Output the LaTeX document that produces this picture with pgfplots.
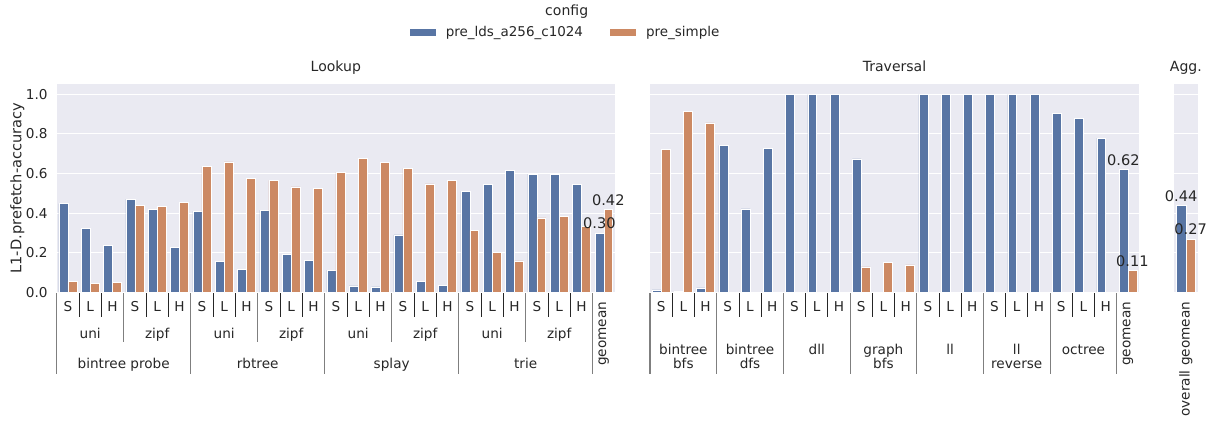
\documentclass[border=0pt]{standalone}
\usepackage{pgfplots}
\pgfplotsset{compat=1.18}
\usepackage{fontspec}
\setmainfont{DejaVu Sans}
\definecolor{cblue}{HTML}{5875A4}
\definecolor{corange}{HTML}{CC8963}
\definecolor{bgc}{HTML}{EAEAF2}
\definecolor{txt}{HTML}{262626}
\definecolor{sepg}{HTML}{7F7F7F}
\newcommand\fs[1]{\fontsize{#1}{#1}\selectfont}
\tikzset{
  shortsep/.style={txt, line width=0.55pt},
  longsep/.style={sepg, line width=0.8pt},
}
\pgfplotsset{
  /pgf/number format/assume math mode=true,
  panel/.style={
    scale only axis, height=149.98pt, ymin=0, ymax=1.052,
    axis background/.style={fill=bgc},
    axis line style={draw=none},
    ytick={0,0.2,0.4,0.6,0.8,1.0}, ymajorgrids,
    grid style={white, line width=0.8pt},
    xtick=\empty, major tick length=0pt,
    ybar, bar width=0.4,
    clip=false,
    tick label style={font=\fs{9.8}},
    title style={font=\fs{10.1}, at={(0.5,1)}, anchor=base, yshift=2.9pt},
  },
  sb/.style={fill=cblue, draw=white, line width=0.4pt, bar shift=-0.2},
  so/.style={fill=corange, draw=white, line width=0.4pt, bar shift=0.2},
  lab/.style={nodes near coords={\pgfmathprintnumber[fixed,fixed zerofill,precision=2,assume math mode=true]{\pgfplotspointmeta}},
    point meta=y,
    nodes near coords style={font=\fs{10.5}, anchor=south, inner sep=0pt, yshift=2.6pt}},
}
\begin{document}
\begin{tikzpicture}[every node/.append style={text=txt}]
% ---------------- Lookup ----------------
\begin{axis}[panel, at={(40.82pt,-210.46pt)}, anchor=south west, width=401.98pt,
  xmin=-0.5, xmax=24.5, title={Lookup},
  yticklabel style={xshift=-3pt, /pgf/number format/fixed, /pgf/number format/fixed zerofill, /pgf/number format/precision=1},
  ylabel={L1-D.prefetch-accuracy},
  every axis y label/.style={at={(axis description cs:-0.0705,0.5)}, rotate=90, anchor=center, font=\fs{10.5}},
  legend style={at={(rel axis cs:0.9122,1.248)}, anchor=center, draw=none, fill=none,
    legend columns=2, font=\fs{9.7}, legend cell align=left,
    /tikz/every even column/.append style={column sep=17.5pt}},
]
\addlegendimage{legend image code/.code={\fill[cblue, draw=none] (0pt,-2.6pt) rectangle (18.7pt,2.6pt); \path[draw=none, fill=none] (0pt,0pt) rectangle (23.9pt,0.1pt);}}
\addlegendentry{pre\_lds\_a256\_c1024}
\addlegendimage{legend image code/.code={\fill[corange, draw=none] (0pt,-2.6pt) rectangle (18.7pt,2.6pt); \path[draw=none, fill=none] (0pt,0pt) rectangle (23.9pt,0.1pt);}}
\addlegendentry{pre\_simple}
\addplot[sb, forget plot] coordinates {
 (0,0.448) (1,0.322) (2,0.238) (3,0.470) (4,0.419) (5,0.227)
 (6,0.409) (7,0.156) (8,0.117) (9,0.414) (10,0.193) (11,0.161)
 (12,0.112) (13,0.032) (14,0.027) (15,0.290) (16,0.055) (17,0.035)
 (18,0.510) (19,0.544) (20,0.616) (21,0.597) (22,0.596) (23,0.545)};
\addplot[so, forget plot] coordinates {
 (0,0.055) (1,0.044) (2,0.050) (3,0.440) (4,0.433) (5,0.456)
 (6,0.634) (7,0.659) (8,0.574) (9,0.565) (10,0.532) (11,0.523)
 (12,0.606) (13,0.678) (14,0.656) (15,0.626) (16,0.547) (17,0.565)
 (18,0.312) (19,0.200) (20,0.159) (21,0.376) (22,0.383) (23,0.334)};
\addplot[sb, forget plot, lab] coordinates {(24,0.30)};
\addplot[so, forget plot, lab] coordinates {(24,0.42)};
\end{axis}
% ---------------- Traversal ----------------
\begin{axis}[panel, at={(468pt,-210.46pt)}, anchor=south west, width=352.08pt,
  xmin=-0.5, xmax=21.5, title={Traversal}, yticklabels={}]
\addplot[sb, forget plot] coordinates {
 (0,0.012) (1,0.005) (2,0.022) (3,0.742) (4,0.421) (5,0.727)
 (6,1.0) (7,1.0) (8,1.0) (9,0.674)
 (12,1.0) (13,1.0) (14,1.0) (15,1.0) (16,1.0) (17,1.0)
 (18,0.903) (19,0.878) (20,0.779)};
\addplot[so, forget plot] coordinates {
 (0,0.720) (1,0.914) (2,0.856) (9,0.128) (10,0.151) (11,0.138)};
\addplot[sb, forget plot, lab] coordinates {(21,0.62)};
\addplot[so, forget plot, lab] coordinates {(21,0.11)};
\end{axis}
% ---------------- Agg ----------------
\begin{axis}[panel, at={(845.28pt,-210.46pt)}, anchor=south west, width=17.06pt,
  xmin=-0.5, xmax=0.5, title={Agg.}, yticklabels={}]
\addplot[sb, forget plot, lab] coordinates {(0,0.44)};
\addplot[so, forget plot, lab] coordinates {(0,0.27)};
\end{axis}
% ---------------- annotations (pixel coordinates) ----------------
\begin{scope}[x=0.72pt,y=-0.72pt]
\path[use as bounding box] (0,0) rectangle (1211,420);
\node[anchor=base, font=\fs{10.1}] at (566.7,16) {config};
% Lookup hierarchy
\foreach \k in {1,2,4,5,7,8,10,11,13,14,16,17,19,20,22,23}
  \draw[shortsep] ({56.7+22.332*\k},293.3) -- ({56.7+22.332*\k},317.3);
\foreach \k in {3,9,15,21}
  \draw[longsep] ({56.7+22.332*\k},293.3) -- ({56.7+22.332*\k},341.7);
\foreach \k in {0,6,12,18,24}
  \draw[longsep] ({56.7+22.332*\k},293.3) -- ({56.7+22.332*\k},374.3);
\foreach \g in {0,...,7}{
  \node[anchor=base, font=\fs{9.8}] at ({56.7+22.332*(3*\g+0.5)},311.7) {S};
  \node[anchor=base, font=\fs{9.8}] at ({56.7+22.332*(3*\g+1.5)},311.7) {L};
  \node[anchor=base, font=\fs{9.8}] at ({56.7+22.332*(3*\g+2.5)},311.7) {H};
}
\foreach \s in {0,...,3}{
  \node[anchor=base, font=\fs{9.8}] at ({56.7+22.332*(6*\s+1.5)},338.3) {uni};
  \node[anchor=base, font=\fs{9.8}] at ({56.7+22.332*(6*\s+4.5)},338.3) {zipf};
}
\foreach \s/\n in {0/bintree probe,1/rbtree,2/splay,3/trie}
  \node[anchor=base, font=\fs{9.8}] at ({56.7+22.332*(6*\s+3)},368.6) {\n};
\node[rotate=90, anchor=east, inner sep=0pt, font=\fs{9.8}] at ({56.7+22.332*24.5},301.7) {geomean};
% Traversal hierarchy
\foreach \k in {1,2,4,5,7,8,10,11,13,14,16,17,19,20}
  \draw[shortsep] ({650+22.227*\k},293.3) -- ({650+22.227*\k},317.3);
\foreach \k in {0,3,6,9,12,15,18,21}
  \draw[longsep] ({650+22.227*\k},293.3) -- ({650+22.227*\k},374.3);
\foreach \g in {0,...,6}{
  \node[anchor=base, font=\fs{9.8}] at ({650+22.227*(3*\g+0.5)},311.7) {S};
  \node[anchor=base, font=\fs{9.8}] at ({650+22.227*(3*\g+1.5)},311.7) {L};
  \node[anchor=base, font=\fs{9.8}] at ({650+22.227*(3*\g+2.5)},311.7) {H};
}
\foreach \s/\a/\b in {0/bintree/bfs,1/bintree/dfs,2/dll/,3/graph/bfs,4/ll/,5/ll/reverse,6/octree/}{
  \node[anchor=base, font=\fs{9.8}] at ({650+22.227*(3*\s+1.5)},354.3) {\a};
  \node[anchor=base, font=\fs{9.8}] at ({650+22.227*(3*\s+1.5)},368.6) {\b};
}
\node[rotate=90, anchor=east, inner sep=0pt, font=\fs{9.8}] at ({650+22.227*21.5},301.7) {geomean};
% Agg
\node[rotate=90, anchor=east, inner sep=0pt, font=\fs{9.8}] at (1185.85,301.7) {overall geomean};
\end{scope}
\end{tikzpicture}
\end{document}
